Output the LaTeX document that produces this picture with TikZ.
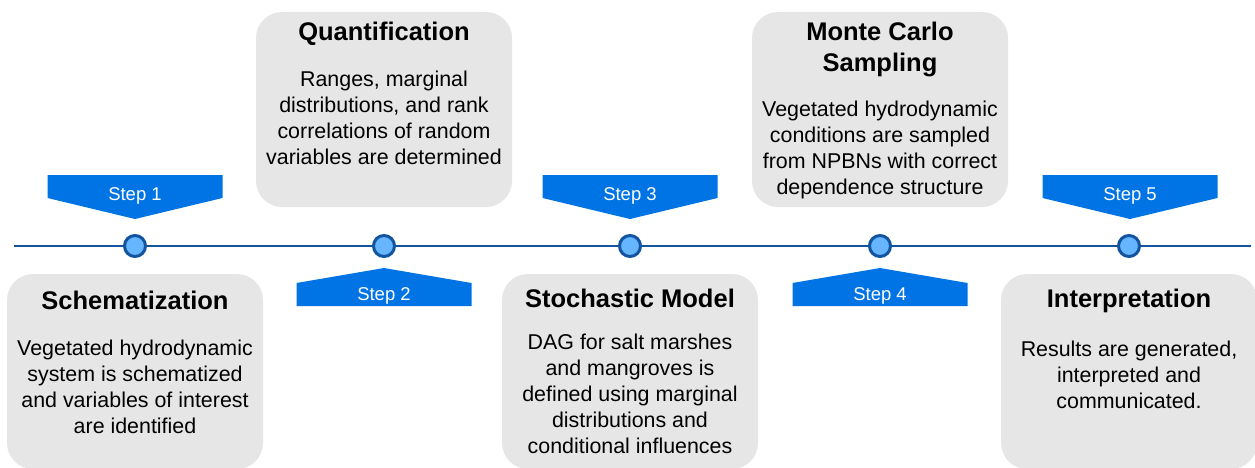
\documentclass[tikz,border=0pt]{standalone}
\usepackage{fontspec}
\setmainfont{Liberation Sans}
\usepackage{tikz}
\usetikzlibrary{positioning}

\definecolor{boxgray}{RGB}{230,230,230}
\definecolor{stepblue}{RGB}{0,116,228}
\definecolor{dotblue}{RGB}{102,182,255}
\definecolor{linedark}{RGB}{18,84,160}

\tikzset{
  card/.style={fill=boxgray, rounded corners=26pt, minimum width=256pt, minimum height=195pt, inner sep=0pt},
  cardtitle/.style={font=\fontsize{25.5}{30}\selectfont\bfseries, align=center, inner sep=0pt},
  cardtext/.style={font=\fontsize{21.4}{26}\selectfont, align=center, inner sep=0pt},
  steplabel/.style={font=\fontsize{18.5}{22}\selectfont, text=white, inner sep=0pt},
  dot/.style={circle, draw=linedark, line width=3pt, fill=dotblue, minimum size=21pt, inner sep=0pt}
}

\begin{document}
\begin{tikzpicture}[x=1pt, y=-1pt]
                \useasboundingbox (0,0) rectangle (1255,468);

                % Cards
                \node[card] (c1) at (135,371.5) {};
                \node[card] (c2) at (384,109.5) {};
                \node[card] (c3) at (630,371.5) {};
                \node[card] (c4) at (880,109.5) {};
                \node[card] (c5) at (1129,371.5) {};

                % Titles
                \node[cardtitle] (t1) at (135,300) {Schematization};
                \node[cardtitle] (t2) at (384,34) {Quantification};
                \node[cardtitle] (t3) at (630,298) {Stochastic Model};
                \node[cardtitle, font=\fontsize{25.5}{31}\selectfont\bfseries] (t4) at (880,49.5) {Monte Carlo\\Sampling};
                \node[cardtitle] (t5) at (1129,301) {Interpretation};

                % Texts
                \node[cardtext] (b1) at (135,387) {Vegetated hydrodynamic\\system is schematized\\and variables of interest\\are identified};
                \node[cardtext] (b2) at (384,117.5) {Ranges, marginal\\distributions, and rank\\correlations of random\\variables are determined};
                \node[cardtext] (b3) at (630,394) {DAG for salt marshes\\and mangroves is\\defined using marginal\\distributions and\\conditional influences};
                \node[cardtext] (b4) at (880,150) {Vegetated hydrodynamic\\conditions are sampled\\from NPBNs with correct\\dependence structure};
                \node[cardtext] (b5) at (1129,375) {Results are generated,\\interpreted and\\communicated.};

                % Timeline
                \coordinate (start) at (14,246);
                \coordinate (end) at (1251,246);
                \draw[linedark, line width=2pt] (start) -- (end);

                % Flags
                \fill[stepblue] (47.5,175) -- (222.5,175) -- (222.5,198) -- (135,219) -- (47.5,198) -- cycle;
                \fill[stepblue] (296.5,306) -- (471.5,306) -- (471.5,283) -- (384,268) -- (296.5,283) -- cycle;
                \fill[stepblue] (542.5,175) -- (717.5,175) -- (717.5,198) -- (630,219) -- (542.5,198) -- cycle;
                \fill[stepblue] (792.5,306) -- (967.5,306) -- (967.5,283) -- (880,268) -- (792.5,283) -- cycle;
                \fill[stepblue] (1042.5,175) -- (1217.5,175) -- (1217.5,198) -- (1130,219) -- (1042.5,198) -- cycle;
                \node[steplabel] (s1) at (135,196) {Step 1};
                \node[steplabel] (s2) at (384,295.5) {Step 2};
                \node[steplabel] (s3) at (630,196) {Step 3};
                \node[steplabel] (s4) at (880,295.5) {Step 4};
                \node[steplabel] (s5) at (1130,196) {Step 5};

                % Dots
                \node[dot] (d1) at (135,246) {};
                \node[dot] (d2) at (384,246) {};
                \node[dot] (d3) at (630,246) {};
                \node[dot] (d4) at (880,246) {};
                \node[dot] (d5) at (1129,246) {};
            \end{tikzpicture}
\end{document}
